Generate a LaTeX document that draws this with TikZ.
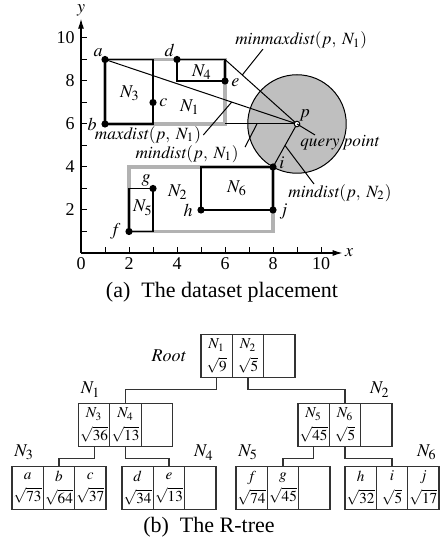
\documentclass[tikz,border=0pt]{standalone}
\usepackage{mathptmx}
\usepackage{fontspec}
\setmainfont{Liberation Serif}
\usetikzlibrary{arrows.meta,positioning,calc}

\begin{document}
\begin{tikzpicture}[
    x=0.5pt, y=0.5pt,
    font=\fontsize{9}{10}\selectfont,
    >={Latex[length=5pt,width=3pt]},
    mbr/.style={
        draw=black!30,
        line width=1.6pt
    },
    leafmbr/.style={
        draw,
        line width=0.9pt
    },
    ptdot/.style={
        fill=black
    },
    lab/.style={
        inner sep=1pt
    },
    dlab/.style={
        inner sep=1pt,
        font=\fontsize{8.6}{10}\selectfont
    },
    lead/.style={
        line width=0.5pt
    },
    cell/.style={
        draw=black!80,
        line width=0.6pt,
        minimum width=15.67pt,
        minimum height=21.5pt,
        inner sep=0pt,
        outer sep=0pt,
        align=center,
        font=\fontsize{7.6}{8.6}\selectfont
    },
    link/.style={
        draw=black!80,
        line width=0.6pt
    },
    caption/.style={
        font=\fontsize{11}{13}\selectfont
    }
]

\useasboundingbox (0,0) rectangle (441,546);

% Part (a) --- the points, their MBRs and the query point
\begin{scope}[shift={(81,293)}, x=12pt, y=10.75pt]

\coordinate (a) at (1,9);
\coordinate (b) at (1,6);
\coordinate (c) at (3,7);
\coordinate (d) at (4,9);
\coordinate (e) at (6,8);
\coordinate (f) at (2,1);
\coordinate (g) at (3,3);
\coordinate (h) at (5,2);
\coordinate (i) at (8,4);
\coordinate (j) at (8,2);
\coordinate (p) at (9,6);

% search circle through the nearest point
\draw[fill=black!25, line width=0.5pt]
    let \p1=($(i)-(p)$) in (p) circle ({veclen(\x1,\y1)});

% axes
\draw[->, line width=0.6pt] (0,0) -- (10.9,0) node[right, inner sep=1pt] (xl) {$x$};
\draw[->, line width=0.6pt] (0,0) -- (0,10.9) node[above, inner sep=1pt] (yl) {$y$};
\foreach \t in {1,...,10} {
    \draw[line width=0.5pt] (\t,0) -- ++(0,3pt);
    \draw[line width=0.5pt] (0,\t) -- ++(3pt,0);
}
\foreach \t in {0,2,...,10}
    \node[below, inner sep=2pt] (xt\t) at (\t,0) {\t};
\foreach \t in {2,4,...,10}
    \node[left, inner sep=3pt] (yt\t) at (0,\t) {\t};

% MBRs N1 and N2, then N3 to N6 over them
\draw[mbr] (b) rectangle (6,9);
\draw[mbr] (f) rectangle (i);
\draw[leafmbr] (b) rectangle (a -| c);
\draw[leafmbr] (4,8) rectangle (6,9);
\draw[leafmbr] (f) rectangle (g);
\draw[leafmbr] (h) rectangle (i);

% distances from p to N1 and N2
\draw[lead] (a) -- (p);
\draw[lead] (6,9) -- (p);
\draw[lead] (6,6) -- (p);
\draw[lead] (i) -- (p);

\foreach \pt in {a,b,c,d,e,f,g,h,i,j}
    \fill[ptdot] (\pt) circle (1.8pt);
\draw[fill=white, line width=0.5pt] (p) circle (1.4pt);

% point names
\node[lab, above left] (la) at (a) {$a$};
\node[lab, left=3pt of b] (lb) {$b$};
\node[lab, right=2pt of c] (lc) {$c$};
\node[lab, above left] (ld) at (d) {$d$};
\node[lab, right=2pt of e, yshift=-1pt] (le) {$e$};
\node[lab, left=3pt of f] (lf) {$f$};
\node[lab, above left] (lg) at (g) {$g$};
\node[lab, left=3pt of h] (lh) {$h$};
\node[lab, right=2pt of i, yshift=2pt] (li) {$i$};
\node[lab, right=2pt of j, yshift=-1pt] (lj) {$j$};
\node[lab, above right] (lp) at (p) {$p$};

% MBR names
\node (t1) at (4.54,6.8) {$N_1$};
\node (t2) at (4.04,2.84) {$N_2$};
\node (t3) at (2.04,7.44) {$N_3$};
\node (t4) at (5.04,8.42) {$N_4$};
\node (t5) at (2.58,2.1) {$N_5$};
\node (t6) at (6.5,3.0) {$N_6$};

% distance labels with leaders
\node[dlab, anchor=west] (lmm) at (6.33,9.9) {$\mathit{minmaxdist}(p,\;N_1)$};
\draw[lead] ([xshift=15pt, yshift=1pt]lmm.south west) -- ($(6,9)!0.24!(p)$);

\node[dlab] (lmx) at (2.79,5.49) {$\mathit{maxdist}(p,\;N_1)$};
\draw[lead] (lmx.east) -- ($(a)!0.66!(p)$);

\node[dlab] (lmn1) at (4.42,4.6) {$\mathit{mindist}(p,\;N_1)$};
\draw[lead] ([xshift=2pt, yshift=-2pt]lmn1.north east) -- (7.33,6);

\node[dlab] (lmn2) at (10.79,2.79) {$\mathit{mindist}(p,\;N_2)$};
\draw[lead] ([xshift=14pt, yshift=-1pt]lmn2.north west) -- ($(p)!0.5!(i)$);

\node[dlab] (lqp) at (10.79,5.12) {$\mathit{query\ point}$};
\coordinate (qend) at (9.75,5.49);
\draw[lead] (p) -- (qend);

\end{scope}

\node[caption] (capa) at (222,254) {(a)\enspace The dataset placement};


% Part (b) --- the R-tree
\node[cell] (root-n2) at (248,190) {$N_2$\\[2.5pt]$\sqrt{5}$};
\node[cell, left=0pt of root-n2] (root-n1) {$N_1$\\[2.5pt]$\sqrt{9}$};
\node[cell, right=0pt of root-n2] (root-e) {};
\node[left=4pt of root-n1] (lroot) {$\mathit{Root}$};

% level 1
\node[cell] (n1-n4) at (125.5,121) {$N_4$\\[2.5pt]$\sqrt{13}$};
\node[cell, left=0pt of n1-n4] (n1-n3) {$N_3$\\[2.5pt]$\sqrt{36}$};
\node[cell, right=0pt of n1-n4] (n1-e) {};
\node[cell] (n2-n6) at (345,121) {$N_6$\\[2.5pt]$\sqrt{5}$};
\node[cell, left=0pt of n2-n6] (n2-n5) {$N_5$\\[2.5pt]$\sqrt{45}$};
\node[cell, right=0pt of n2-n6] (n2-e) {};

\node[anchor=south west, inner sep=1pt] (ln1) at ([yshift=2pt]n1-n3.north west) {$N_1$};
\node[anchor=south east, inner sep=1pt] (ln2) at ([yshift=2pt]n2-e.north east) {$N_2$};

% leaves
\node[cell] (n3-b) at (59,58) {$b$\\[2.5pt]$\sqrt{64}$};
\node[cell, left=0pt of n3-b] (n3-a) {$a$\\[2.5pt]$\sqrt{73}$};
\node[cell, right=0pt of n3-b] (n3-c) {$c$\\[2.5pt]$\sqrt{37}$};
\node[cell] (n4-e) at (169,58) {$e$\\[2.5pt]$\sqrt{13}$};
\node[cell, left=0pt of n4-e] (n4-d) {$d$\\[2.5pt]$\sqrt{34}$};
\node[cell, right=0pt of n4-e] (n4-x) {};
\node[cell] (n5-g) at (283,58) {$g$\\[2.5pt]$\sqrt{45}$};
\node[cell, left=0pt of n5-g] (n5-f) {$f$\\[2.5pt]$\sqrt{74}$};
\node[cell, right=0pt of n5-g] (n5-x) {};
\node[cell] (n6-i) at (392,58) {$i$\\[2.5pt]$\sqrt{5}$};
\node[cell, left=0pt of n6-i] (n6-h) {$h$\\[2.5pt]$\sqrt{32}$};
\node[cell, right=0pt of n6-i] (n6-j) {$j$\\[2.5pt]$\sqrt{17}$};

\node[anchor=south west, inner sep=1pt] (ln3) at ([yshift=2pt]n3-a.north west) {$N_3$};
\node[anchor=south east, inner sep=1pt] (ln4) at ([yshift=2pt]n4-x.north east) {$N_4$};
\node[anchor=south west, inner sep=1pt] (ln5) at ([yshift=2pt]n5-f.north west) {$N_5$};
\node[anchor=south east, inner sep=1pt] (ln6) at ([yshift=2pt]n6-j.north east) {$N_6$};

% child pointers
\draw[link] (root-n1.south) -- ++(0,-6pt) -| (n1-n4.north);
\draw[link] (root-n2.south) -- ++(0,-6pt) -| (n2-n6.north);
\draw[link] (n1-n3.south) -- ++(0,-6pt) -| (n3-b.north);
\draw[link] (n1-n4.south) -- ++(0,-6pt) -| (n4-e.north);
\draw[link] (n2-n5.south) -- ++(0,-6pt) -| (n5-g.north);
\draw[link] (n2-n6.south) -- ++(0,-6pt) -| (n6-i.north);

\node[caption] (capb) at (209,19) {(b)\enspace The R-tree};

\end{tikzpicture}
\end{document}
